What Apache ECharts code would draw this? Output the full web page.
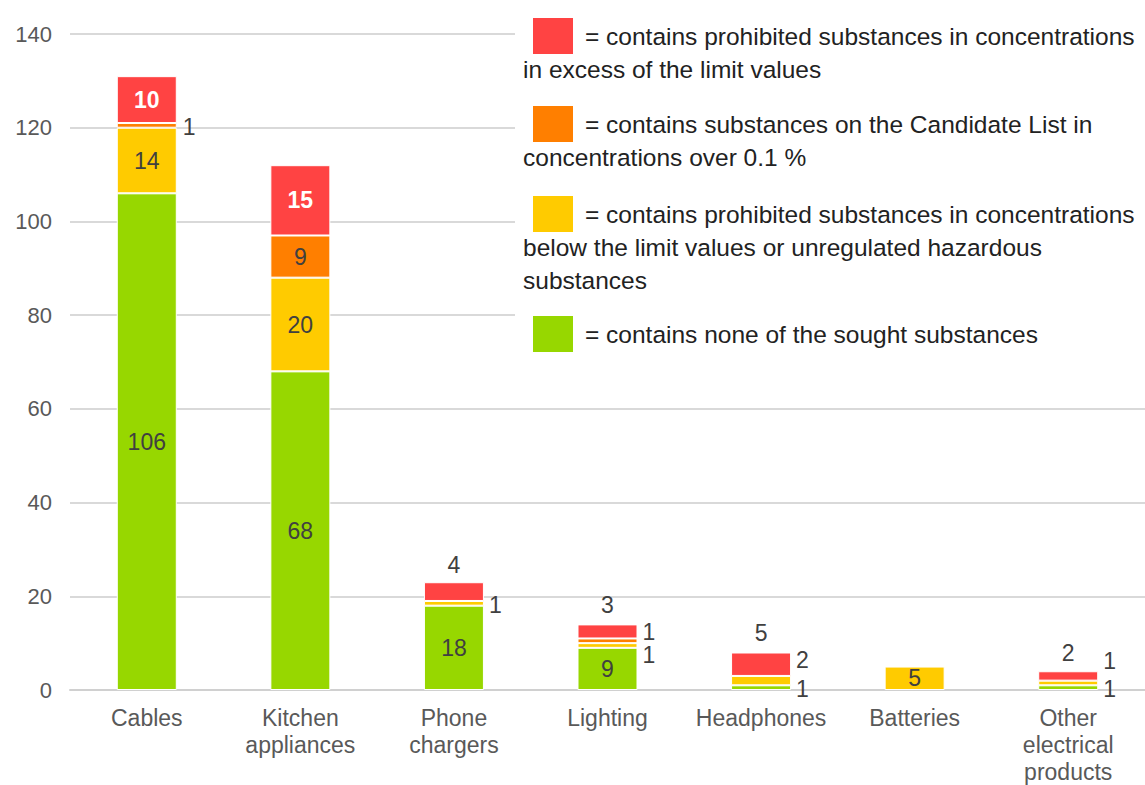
<!DOCTYPE html>
<html>
<head>
<meta charset="utf-8">
<script src="https://cdn.jsdelivr.net/npm/echarts@6/dist/echarts.min.js"></script>
<style>
  html, body { margin: 0; padding: 0; background: #fff; }
  #chart { width: 1145px; height: 785px; }
</style>
</head>
<body>
<div id="chart"></div>
<script>
// categories and values, bottom segment first
var categories = ["Cables", "Kitchen\nappliances", "Phone\nchargers", "Lighting", "Headphones", "Batteries", "Other\nelectrical\nproducts"];
var noneFound = [106, 68, 18, 9, 1, 0, 1];
var belowLimit = [14, 20, 1, 1, 2, 5, 1];
var candidateList = [1, 9, 0, 1, 0, 0, 0];
var overLimit = [10, 15, 4, 3, 5, 0, 2];
var yTicks = [0, 20, 40, 60, 80, 100, 120, 140];

var colors = { red: "#FF4343", orange: "#FF7F00", yellow: "#FFCB00", green: "#97D700" };
var font = "Liberation Sans, Arial, sans-serif";

// where the small value labels sit: [series, category] -> label settings
var labelTweaks = {
  "orange-0": { position: "right", distance: 6, offset: [0, 2] },
  "yellow-2": { position: "right", distance: 5, offset: [0, 2] },
  "orange-3": { position: "right", distance: 5, offset: [0, -9] },
  "yellow-3": { position: "right", distance: 5, offset: [0, 10] },
  "yellow-4": { position: "right", distance: 5, offset: [0, -21] },
  "green-4": { position: "right", distance: 5, offset: [0, 1] },
  "yellow-6": { position: "right", distance: 5, offset: [0, -22] },
  "green-6": { position: "right", distance: 5, offset: [0, 1] },
  "red-2": { position: "top", distance: 6 },
  "red-3": { position: "top", distance: 8 },
  "red-4": { position: "top", distance: 8 },
  "red-6": { position: "top", distance: 7 }
};

function buildData(key, values) {
  return values.map(function (v, i) {
    var item = { value: v === 0 ? null : v };
    var t = labelTweaks[key + "-" + i];
    if (t) item.label = t;
    return item;
  });
}

function makeSeries(name, key, values) {
  return {
    name: name,
    type: "bar",
    stack: "total",
    barWidth: 60,
    data: buildData(key, values),
    itemStyle: { color: colors[key], borderColor: "#fff", borderWidth: 1 },
    label: {
      show: true,
      position: "inside",
      fontFamily: font,
      fontSize: 23,
      color: "#404040",
      formatter: function (p) { return p.value ? String(p.value) : ""; }
    }
  };
}

var series = [
  makeSeries("contains none of the sought substances", "green", noneFound),
  makeSeries("below limit values or unregulated", "yellow", belowLimit),
  makeSeries("Candidate List over 0.1 %", "orange", candidateList),
  makeSeries("in excess of the limit values", "red", overLimit)
];
// big red values are white and bold inside the bar
series[3].data.forEach(function (d) {
  if (!d.label && d.value) d.label = { color: "#fff", fontWeight: "bold" };
});

// legend, drawn with hanging indent like the original
var legendItems = [
  { color: colors.red, y: 18, lines: ["= contains prohibited substances in concentrations", "in excess of the limit values"] },
  { color: colors.orange, y: 106, lines: ["= contains substances on the Candidate List in", "concentrations over 0.1 %"] },
  { color: colors.yellow, y: 196, lines: ["= contains prohibited substances in concentrations", "below the limit values or unregulated hazardous", "substances"] },
  { color: colors.green, y: 316, lines: ["= contains none of the sought substances"] }
];
var graphics = [{
  type: "rect", left: 515, top: 8, shape: { width: 630, height: 356 },
  style: { fill: "#fff" }, z: 10
}];
legendItems.forEach(function (it) {
  graphics.push({
    type: "rect", shape: { x: 533, y: it.y, width: 40, height: 36 },
    style: { fill: it.color }, z: 11
  });
  it.lines.forEach(function (txt, k) {
    graphics.push({
      type: "text", z: 11,
      style: {
        text: txt, x: k === 0 ? 585 : 523, y: it.y + 18 + k * 33,
        verticalAlign: "middle", fill: "#222",
        fontSize: 24.5, fontFamily: font
      }
    });
  });
});

var myChart = echarts.init(document.getElementById("chart"), null, { renderer: "svg" });
var option = {
  animation: false,
  backgroundColor: "#fff",
  grid: { left: 70, right: 0, top: 34, bottom: 95 },
  xAxis: {
    type: "category",
    data: categories,
    axisLine: { show: true, lineStyle: { color: "#D0D0D0", width: 2 } },
    axisTick: { show: false },
    axisLabel: { color: "#595959", fontSize: 23, fontFamily: font, lineHeight: 27, margin: 14, interval: 0 }
  },
  yAxis: {
    type: "value",
    min: yTicks[0],
    max: yTicks[yTicks.length - 1],
    interval: yTicks[1] - yTicks[0],
    axisLine: { show: false },
    axisTick: { show: false },
    axisLabel: { color: "#595959", fontSize: 22, fontFamily: font, margin: 18 },
    splitLine: { lineStyle: { color: "#D9D9D9", width: 2 } }
  },
  series: series,
  graphic: { elements: graphics }
};
myChart.setOption(option);
</script>
</body>
</html>
